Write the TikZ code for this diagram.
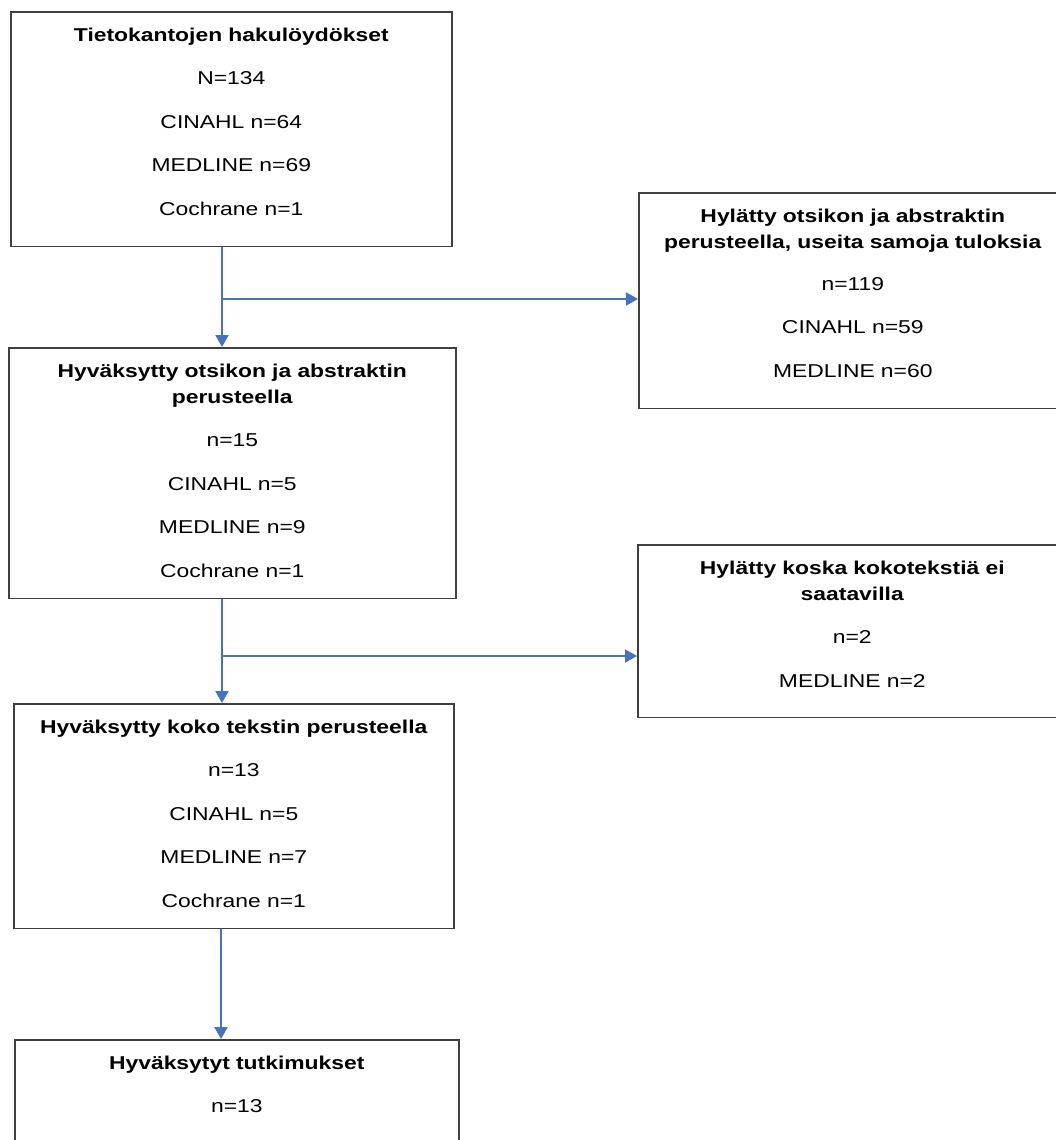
\documentclass[tikz,border=0pt]{standalone}
\usepackage{fontspec}
\setmainfont[FakeStretch=1.23]{Liberation Sans}
\usepackage{tikz}
\usetikzlibrary{arrows.meta}
\definecolor{flowblue}{HTML}{4472C4}
\tikzstyle{box} = [draw=black!75, line width=1.6pt, anchor=north west, inner sep=0pt, align=center, text height=29.5pt, font={\fontsize{18.6pt}{26pt}\selectfont}]
\tikzstyle{flow} = [draw=flowblue, line width=2pt, -{Triangle[width=13pt,length=12pt]}]

\begin{document}
\begin{tikzpicture}[x=1pt,y=-1pt]
        \useasboundingbox[fill=white] (0,0) rectangle (1055,1140);
        \node[box,text width=441pt,text depth=205pt](0) at (10,11){\textbf{Tietokantojen hakulöydökset}\\[17.5pt]N=134\\[17.5pt]CINAHL n=64\\[17.5pt]MEDLINE n=69\\[17.5pt]Cochrane n=1};
        \node[box,text width=428pt,text depth=186pt](1) at (638,192){\textbf{Hylätty otsikon ja abstraktin}\\\textbf{perusteella, useita samoja tuloksia}\\[16pt]n=119\\[17.5pt]CINAHL n=59\\[17.5pt]MEDLINE n=60};
        \node[box,text width=447pt,text depth=221pt](2) at (8,347){\textbf{Hyväksytty otsikon ja abstraktin}\\\textbf{perusteella}\\[17.5pt]n=15\\[17.5pt]CINAHL n=5\\[17.5pt]MEDLINE n=9\\[17.5pt]Cochrane n=1};
        \node[box,text width=429pt,text depth=143pt](3) at (637,544){\textbf{Hylätty koska kokotekstiä ei}\\\textbf{saatavilla}\\[17.5pt]n=2\\[17.5pt]MEDLINE n=2};
        \node[box,text width=440pt,text depth=195pt](4) at (13,703){\textbf{Hyväksytty koko tekstin perusteella}\\[17.5pt]n=13\\[17.5pt]CINAHL n=5\\[17.5pt]MEDLINE n=7\\[17.5pt]Cochrane n=1};
        \node[box,text width=444pt,text depth=82pt](5) at (14,1039){\textbf{Hyväksytyt tutkimukset}\\[17.5pt]n=13};
        \coordinate (a) at (222,299);
        \coordinate (b) at (222,656);
        \coordinate (c) at (221,980);
        \draw[flow](a |- 0.south)--(a |- 2.north);
        \draw[flow](a)--(a -| 1.west);
        \draw[flow](b |- 2.south)--(b |- 4.north);
        \draw[flow](b)--(b -| 3.west);
        \draw[flow](c |- 4.south)--(c |- 5.north);
      \end{tikzpicture}
\end{document}
